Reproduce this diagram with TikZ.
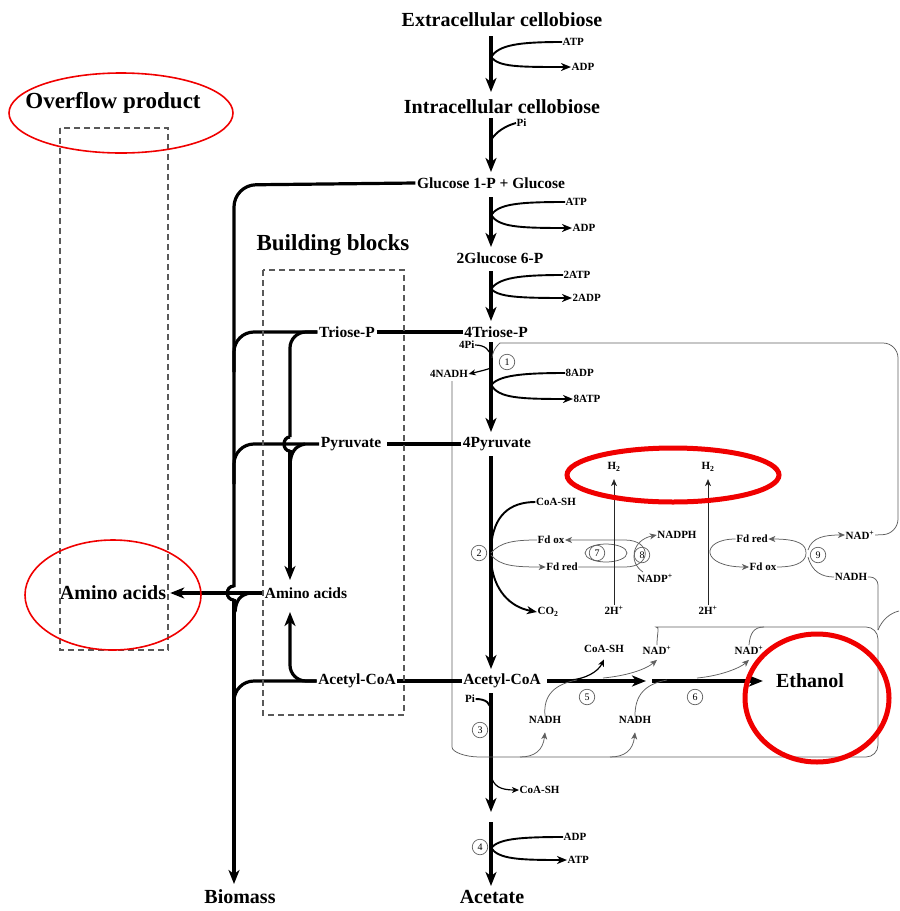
\documentclass[tikz,border=0pt]{standalone}
\usepackage{fontspec}
\setmainfont{Liberation Serif}
\usetikzlibrary{arrows.meta}
\definecolor{hl}{RGB}{240,0,0}
\definecolor{tg}{RGB}{95,95,95}
\begin{document}
\begin{tikzpicture}[x=1pt,y=-1pt,
 bigl/.style={font=\bfseries\fontsize{20}{22}\selectfont,inner sep=1pt},
 hugel/.style={font=\bfseries\fontsize{23}{25}\selectfont,inner sep=1pt},
 midl/.style={font=\bfseries\fontsize{15.5}{17}\selectfont,inner sep=1.5pt},
 sml/.style={font=\bfseries\fontsize{11}{12}\selectfont,inner sep=0.5pt},
 cnum/.style={circle,draw=tg,line width=0.7pt,inner sep=0pt,minimum size=15.5pt,font=\fontsize{10}{10}\selectfont},
 mainln/.style={line width=3.2pt},
 sideln/.style={line width=1.9pt},
 medln/.style={line width=1.2pt},
 thinln/.style={line width=0.75pt,draw=tg},
 mtip/.style={-{Stealth[length=14pt,width=11pt,inset=4pt]}},
 stip/.style={-{Stealth[length=10pt,width=8pt,inset=3pt]}},
 ttip/.style={-{Stealth[length=7pt,width=6pt,inset=2pt]}},
 redthin/.style={draw=hl,line width=1.6pt},
 redthick/.style={draw=hl,line width=5pt},
 dbox/.style={draw=black!65,dash pattern=on 6pt off 4pt,line width=1.2pt},
]
\useasboundingbox (0,0) rectangle (900,911);

% ---------- main metabolites ----------
\node[bigl] (ec) at (502,20) {Extracellular cellobiose};
\node[bigl] (ic) at (502,107) {Intracellular cellobiose};
\node[midl] (g1p) at (491,183) {Glucose 1-P + Glucose};
\node[midl] (g6p) at (500,258) {2Glucose 6-P};
\node[midl] (tp4) at (496,332) {4Triose-P};
\node[midl] (py4) at (497,444) {4Pyruvate};
\node[midl] (ac) at (502,681) {Acetyl-CoA};
\node[bigl] (acet) at (492,897) {Acetate};
\node[bigl] (eth) at (810,681) {Ethanol};

% main axis arrows
\coordinate (m1a) at (491,36);  \coordinate (m1b) at (491,92);
\coordinate (m2a) at (491,118); \coordinate (m2b) at (491,172);
\coordinate (m3a) at (491,197); \coordinate (m3b) at (491,247);
\coordinate (m4a) at (491,271); \coordinate (m4b) at (491,321);
\coordinate (m5a) at (491,342); \coordinate (m5b) at (491,432);
\coordinate (m6a) at (491,456); \coordinate (m6b) at (491,669);
\coordinate (m7a) at (491,693); \coordinate (m7b) at (491,812);
\coordinate (m8a) at (491,822); \coordinate (m8b) at (491,886);
\draw[mainln,mtip] (m1a) -- (m1b);
\draw[mainln,mtip] (m2a) -- (m2b);
\draw[mainln,mtip] (m3a) -- (m3b);
\draw[mainln,mtip] (m4a) -- (m4b);
\draw[mainln,mtip] (m5a) -- (m5b);
\draw[mainln,mtip] (m6a) -- (m6b);
\draw[mainln,mtip] (m7a) -- (m7b);
\draw[mainln,mtip] (m8a) -- (m8b);

% ---------- forks ----------
\node[sml,anchor=west] (atp1) at (562,42) {ATP};
\node[sml,anchor=west] (adp1) at (571,67) {ADP};
\draw[sideln] (491,57) .. controls (499,45) and (518,42) .. (atp1.west);
\draw[sideln,stip] (491,57) .. controls (499,67) and (518,67) .. (adp1.west);

\node[sml,anchor=west] (pi1) at (516,123) {Pi};
\draw[sideln] (491,140) .. controls (496,132) and (505,126) .. (pi1.west);

\node[sml,anchor=west] (atp2) at (565,202) {ATP};
\node[sml,anchor=west] (adp2) at (572,228) {ADP};
\draw[sideln] (491,215) .. controls (499,204) and (518,202) .. (atp2.west);
\draw[sideln,stip] (491,215) .. controls (499,227) and (518,228) .. (adp2.west);

\node[sml,anchor=west] (atp3) at (563,275) {2ATP};
\node[sml,anchor=west] (adp3) at (572,298) {2ADP};
\draw[sideln] (491,289) .. controls (499,278) and (518,275) .. (atp3.west);
\draw[sideln,stip] (491,289) .. controls (499,297) and (518,298) .. (adp3.west);

\node[sml,anchor=west] (adp4) at (565,373) {8ADP};
\node[sml,anchor=west] (atp4) at (573,399) {8ATP};
\draw[sideln] (491,385) .. controls (499,376) and (518,373) .. (adp4.west);
\draw[sideln,stip] (491,385) .. controls (499,398) and (518,399) .. (atp4.west);

\node[sml,anchor=west] (adp5) at (563,837) {ADP};
\node[sml,anchor=west] (atp5) at (567,860) {ATP};
\draw[sideln] (491,848) .. controls (499,839) and (518,837) .. (adp5.west);
\draw[sideln,stip] (491,848) .. controls (499,859) and (518,860) .. (atp5.west);

% ---------- step 1 ----------
\node[sml,anchor=east] (pi4) at (475,345) {4Pi};
\draw[medln] (pi4.east) .. controls (485,345) and (490,350) .. (491,357);
\node[cnum] (c1) at (507,362) {1};
\node[sml] (nadh4) at (449,374) {4NADH};
\draw[medln,ttip] (491,368) .. controls (485,370) .. (nadh4.east);

% ---------- NAD loops ----------
\node[sml] (nad9) at (860,535) {NAD\textsuperscript{+}};
\node[sml] (nadh9) at (851,577) {NADH};
\draw[thinln,rounded corners=15pt] (nad9.east) -- (898,534) -- (898,343) -- (515,343) .. controls (500,343) and (493,348) .. (492,358);

\node[sml] (coash5) at (604,649) {CoA-SH};
\node[sml] (nad5) at (657,650) {NAD\textsuperscript{+}};
\node[sml] (nad6) at (749,650) {NAD\textsuperscript{+}};
\node[sml] (nadh5) at (545,720) {NADH};
\node[sml] (nadh6) at (635,720) {NADH};

\coordinate (lb) at (452,381);
\draw[thinln,rounded corners=12pt] (lb) -- (452,735) .. controls (452,752) and (465,757) .. (492,757) -- (878,757) -- (878,627) -- (668,627) .. controls (660,627) and (657,632) .. (nad5.north);
\draw[thinln] (nad6.north) .. controls (750,633) and (754,627) .. (764,627);
\draw[thinln,rounded corners=8pt] (nadh9.east) -- (878,577) -- (878,630);
\draw[thinln] (899,611) .. controls (890,613) and (882,620) .. (878,630);

% ---------- step 2 ----------
\node[cnum] (c2) at (479,553) {2};
\node[sml] (coash2) at (556,502) {CoA-SH};
\node[sml] (co2) at (548,612) {CO\textsubscript{2}};
\node[sml] (fdox1) at (551,540) {Fd ox};
\node[sml] (fdred1) at (562,567) {Fd red};
\draw[sideln] (491,548) .. controls (493,515) and (510,502) .. (coash2.west);
\draw[sideln,stip] (491,560) .. controls (493,590) and (510,607) .. (co2.west);
\draw[thinln] (491,553) .. controls (500,542) and (515,540) .. (fdox1.west);
\draw[thinln,ttip] (491,555) .. controls (500,566) and (515,567) .. (fdred1.west);

\node[cnum] (c7) at (597,553) {7};
\node[cnum] (c8) at (642,555) {8};
\draw[thinln,ttip] (fdred1.east) -- (625,567) .. controls (652,567) and (652,540) .. (625,540) -- (fdox1.east);
\draw[thinln] (606,553) ellipse [x radius=21pt, y radius=9pt];
\node[sml] (nadph) at (677,535) {NADPH};
\node[sml] (nadp) at (655,578) {NADP\textsuperscript{+}};
\draw[thinln,ttip] (643,572) .. controls (628,562) and (632,540) .. (nadph.west);

\node[sml] (h21) at (614,467) {H\textsubscript{2}};
\node[sml] (hp1) at (614,610) {2H\textsuperscript{+}};
\draw[thinln,draw=black!85,ttip] (hp1.north) -- ([yshift=-7pt]h21.south);
\node[sml] (h22) at (708,467) {H\textsubscript{2}};
\node[sml] (hp2) at (708,610) {2H\textsuperscript{+}};
\draw[thinln,draw=black!85,ttip] (hp2.north) -- ([yshift=-7pt]h22.south);

\node[sml] (fdred2) at (752,539) {Fd red};
\node[sml] (fdox2) at (763,567) {Fd ox};
\node[cnum] (c9) at (818,555) {9};
\draw[thinln,ttip] (fdred2.west) .. controls (700,539) and (700,567) .. (fdox2.west);
\draw[thinln,ttip] (fdox2.east) .. controls (800,567) and (806,560) .. (806,553) .. controls (806,545) and (800,539) .. (fdred2.east);
\draw[thinln,ttip] (808,550) .. controls (812,537) and (825,535) .. (nad9.west);
\draw[thinln] (808,557) .. controls (812,572) and (822,577) .. (nadh9.west);

% ---------- steps 5 and 6 ----------
\node[cnum] (c5) at (587,697) {5};
\node[cnum] (c6) at (695,697) {6};
\draw[mainln,mtip] ([xshift=5pt]ac.east) -- (646,681);
\draw[mainln,mtip] (652,681) -- ([xshift=-12pt]eth.west);
\draw[medln,ttip] (570,680) .. controls (585,679) and (598,672) .. ([yshift=-6pt]coash5.south);
\draw[thinln,ttip] (603,678) .. controls (625,676) and (645,670) .. ([yshift=-5pt]nad5.south);
\draw[thinln,ttip] (697,678) .. controls (720,676) and (740,668) .. ([yshift=-5pt]nad6.south);
\draw[thinln] (nadh5.north) .. controls (543,695) and (555,684) .. (577,680);
\draw[thinln] (nadh6.north) .. controls (635,695) and (645,684) .. (667,680);
\draw[thinln,ttip] (520,757) .. controls (535,757) and (543,750) .. ([yshift=-8pt]nadh5.south);
\draw[thinln,ttip] (610,757) .. controls (625,757) and (633,750) .. ([yshift=-8pt]nadh6.south);

% ---------- steps 3 and 4 ----------
\node[sml] (pi3) at (470,699) {Pi};
\draw[sideln] (pi3.east) .. controls (486,699) and (491,703) .. (491,712);
\node[cnum] (c3) at (480,730) {3};
\node[sml,anchor=west] (coash3) at (519,790) {CoA-SH};
\draw[medln,ttip] (491,775) .. controls (493,786) and (500,790) .. (coash3.west);
\node[cnum] (c4) at (480,847) {4};

% ---------- building blocks ----------
\node[midl] (tp) at (347,332) {Triose-P};
\node[midl] (py) at (351,444) {Pyruvate};
\node[midl] (aab) at (306,593) {Amino acids};
\node[midl] (acb) at (357,681) {Acetyl-CoA};
\node[bigl] (aao) at (113,593) {Amino acids};
\node[bigl] (bio) at (240,897) {Biomass};
\node[hugel] (ovf) at (113,103) {Overflow product};
\node[hugel] (bbl) at (333,245) {Building blocks};

\draw[mainln] (tp.east) -- (tp4.west);
\draw[mainln] (py4.west) -- ([xshift=4pt]py.east);
\draw[mainln] (ac.west) -- (acb.east);

\draw[mainln,rounded corners=22pt] (g1p.west) -- (234,185) -- (234,587);
\draw[mainln] (234,586) .. controls (225,586) and (225,600) .. (234,600);
\coordinate (bioend) at (234,884);
\draw[mainln,mtip] (234,599) -- (bioend);
\draw[mainln,rounded corners=20pt] (tp.west) -- (234,332) -- (234,372);
\draw[mainln,rounded corners=20pt] (py.west) -- (234,444) -- (234,484);
\draw[mainln,rounded corners=20pt] (acb.west) -- (234,681) -- (234,721);
\draw[mainln,mtip] (aab.west) -- ([xshift=3pt]aao.east);
\draw[mainln] (250,593) .. controls (240,595) and (236,600) .. (235,612);

\draw[mainln,rounded corners=16pt] (tp.west) -- (290,332) -- (290,437);
\draw[mainln] (290,437) .. controls (282,437) and (282,451) .. (290,451);
\draw[mainln,mtip] (290,450) -- (290,580);
\draw[mainln] (305,444) .. controls (295,446) and (291,452) .. (290,464);
\draw[mainln,mtip,rounded corners=16pt] (acb.west) -- (290,681) -- (290,612);

% dashed boxes
\draw[dbox] (60,128) rectangle (168,650);
\draw[dbox] (263,270) rectangle (404,715);

% red highlights
\draw[redthin] (121,113) ellipse [x radius=112pt, y radius=40pt];
\draw[redthin] (113,595) ellipse [x radius=88pt, y radius=55pt];
\draw[redthick] (673,475) ellipse [x radius=106pt, y radius=27pt];
\draw[redthick] (817,698) ellipse [x radius=72pt, y radius=64pt];
\end{tikzpicture}
\end{document}
